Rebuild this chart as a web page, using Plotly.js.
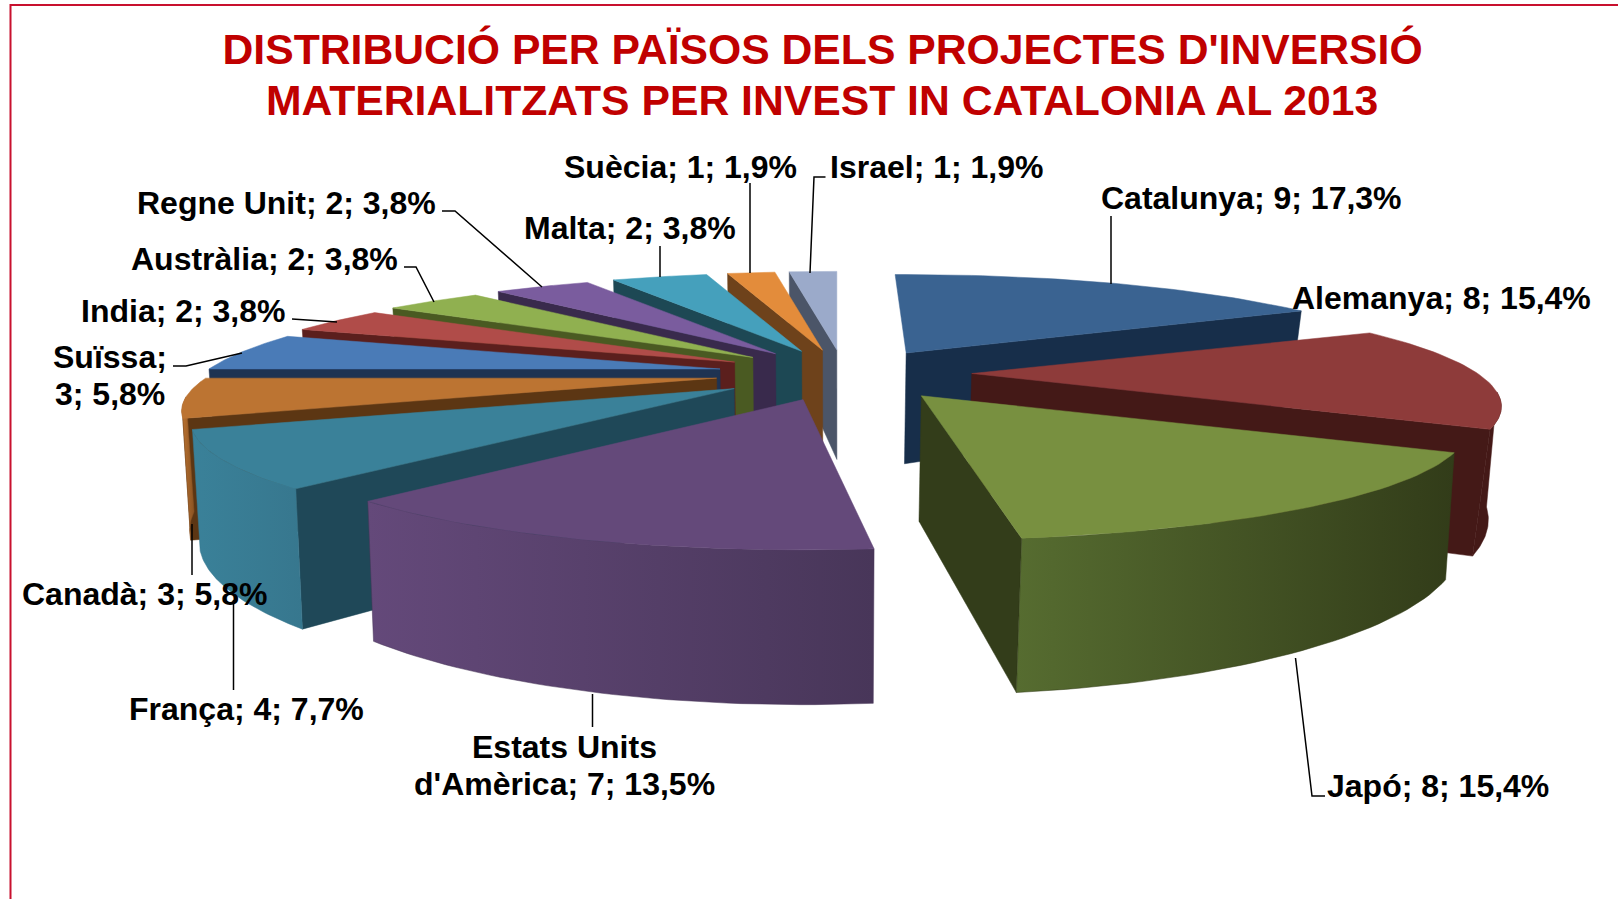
<!DOCTYPE html>
<html>
<head>
<meta charset="utf-8">
<script src="https://cdn.plot.ly/plotly-3.0.1.min.js"></script>
<style>html,body{margin:0;padding:0;background:#fff}#chart{width:1618px;height:899px}</style>
</head>
<body>
<div id="chart"></div>
<script>
const categories = ['Catalunya','Alemanya','Japó',"Estats Units d'Amèrica",'França','Canadà','Suïssa','India','Austràlia','Regne Unit','Malta','Suècia','Israel'];
const values = [9,8,8,7,4,3,3,2,2,2,2,1,1];
const labelTexts = ['Catalunya; 9; 17,3%','Alemanya; 8; 15,4%','Japó; 8; 15,4%',"Estats Units<br>d'Amèrica; 7; 13,5%",'França; 4; 7,7%','Canadà; 3; 5,8%','Suïssa;<br>3; 5,8%','India; 2; 3,8%','Austràlia; 2; 3,8%','Regne Unit; 2; 3,8%','Malta; 2; 3,8%','Suècia; 1; 1,9%','Israel; 1; 1,9%'];
const labelX = [1251,1441,1438,564,246,144,110,183.5,264.5,286.5,630,680,936.5];
const labelY = [198,298,786,765.5,709,594,375,311,259,203,228,167,167];
const leaderX = [[1111,1111],[],[1295.5,1312,1325],[592.5,592.5],[233.5,233.5],[192,192],[173,186,242],[292,337],[404,416,434],[442,455,542],[660,660],[750,750],[825.5,814,810]];
const leaderY = [[216,284],[],[658,796,796],[694,727],[600,690],[524,575],[366,366,353],[319,322],[267,267,302],[211,211,287],[246,277],[183,273],[177,177,273]];
const topColors = ['#3A6391','#8E3B3A','#789040','#64497A','#3A8199','#BC7432','#4A7BB7','#B04C49','#90B050','#7A5C9E','#45A0BC','#E38C3B','#9BAACA'];
const sideColors = ['#172E4A','#441917','#333D1A','#3E2D52','#1F4858','#5C3613','#1F3352','#5B1F1D','#4A5A22','#392A4C','#1D4854','#6E421B','#4B5568'];
const wallLeft = ['#172E4A','#441917','#566C30','#64497A','#3A8199','#BC7432','#4A7BB7','#B04C49','#90B050','#7A5C9E','#45A0BC','#E38C3B','#9BAACA'];
const wallRight = ['#172E4A','#441917','#323C19','#483659','#37778E','#8A5322','#1F3352','#5B1F1D','#4A5A22','#392A4C','#1D4854','#6E421B','#4B5568'];
const titleLines = ["DISTRIBUCIÓ PER PAÏSOS DELS PROJECTES D'INVERSIÓ","MATERIALITZATS PER INVEST IN CATALONIA AL 2013"];

// projection of the exploded pie, in the axes' units
const cx = 844, cy = 373.5, Rx = 511, Ry = 101.7, k = 0.296, explode = 0.25, H = 109;
// small per-slice corrections that follow the reference's perspective
const startTweak = [-1.6,0.8,1,1.3,-0.5,0,0,0,0,0,0,0,0];
const endTweak   = [-0.5,0.5,-0.9,0,0,0,0,0,0,0,0,0,0];
const scaleX = [1,0.99,1.02,1,1.015,1,1,1,1,1,1,1,1];
const scaleY = [1,1,1,1.04,1.015,1,1,1,1,1,1,1,1];
const rad = d => d * Math.PI / 180;
const total = values.reduce((a,b)=>a+b,0);
function local(angle, r){
  const X = Math.sin(rad(angle))*r, D = -Math.cos(rad(angle))*r, s = 1/(1-k*D);
  return {dx:Rx*X*s, dy:Ry*D*s, s};
}
let running = 0;
const slices = values.map((v,i)=>{
  const a0 = running/total*360; running += v; const a1 = running/total*360;
  const mid = (a0+a1)/2, ap = local(mid, explode);
  return {i, a0:a0+startTweak[i], a1:a1+endTweak[i], mid, ax:cx+ap.dx, ay:cy+ap.dy, sA:ap.s, depth:-Math.cos(rad(mid))};
});
function rim(sl, angle){
  const p = local(angle,1);
  return {x:sl.ax+p.dx*scaleX[sl.i], y:sl.ay+p.dy*scaleY[sl.i], h:H*p.s};
}
// the base of the pie draws slightly inward of its top, by an amount that varies round the rim
function base(x, sl, angle){
  let f = 0.988;
  if(x > cx){
    if(sl.i === 1) f = 0.99 - (angle-90)/28*0.017;
    else if(sl.i === 2) f = 0.986 - (angle-118)/55*0.016;
    else f = 0.973;
  }
  return cx+(x-cx)*f;
}
function poly(xs, ys, color, grad){
  const t = {type:'scatter', mode:'lines', x:xs.concat(xs[0]), y:ys.concat(ys[0]), fill:'toself', line:{width:0.5,color:color},
    fillcolor:color, hoverinfo:'skip', showlegend:false};
  if(grad) t.fillgradient = {type:'horizontal', colorscale:[[0,grad[0]],[1,grad[1]]]};
  return t;
}
function radialFace(sl, angle, color){
  const r = rim(sl, angle), hA = H*sl.sA*1.08;
  return poly([sl.ax, r.x, base(r.x,sl,angle), base(sl.ax,sl,angle)], [sl.ay, r.y, r.y+r.h, sl.ay+hA], color);
}
const traces = [];
slices.slice().sort((p,q)=>p.depth-q.depth).forEach(sl=>{
  const i = sl.i;
  if(sl.a1 > 0 && sl.a1 < 180) traces.push(radialFace(sl, sl.a1, sideColors[i]));
  if(sl.a0 >= 180) traces.push(radialFace(sl, sl.a0, sideColors[i]));
  const w0 = Math.max(sl.a0, 100), w1 = Math.min(sl.a1, 260);
  if(w1 > w0){
    const topX=[], topY=[], botX=[], botY=[];
    for(let a=w0; a<=w1+1e-6; a+=(w1-w0)/40){
      const r = rim(sl,a);
      topX.push(r.x); topY.push(r.y); botX.push(base(r.x,sl,a)); botY.push(r.y+r.h);
    }
    traces.push(poly(topX.concat(botX.slice().reverse()), topY.concat(botY.slice().reverse()), wallRight[i], [wallLeft[i], wallRight[i]]));
  }
  const fx=[sl.ax], fy=[sl.ay];
  for(let a=sl.a0; a<=sl.a1+1e-6; a+=(sl.a1-sl.a0)/40){
    const r = rim(sl,a); fx.push(r.x); fy.push(r.y);
  }
  traces.push(poly(fx, fy, topColors[i]));
});

const family = '"Liberation Sans", Arial, sans-serif';
const font = {family, size:32, color:'#000', weight:'bold'};
const lineGap = 37;
const annotations = [];
labelTexts.forEach((t,i)=>{
  const rows = t.split('<br>');
  rows.forEach((row,j)=>annotations.push({text:row, x:labelX[i], y:labelY[i]+(j-(rows.length-1)/2)*lineGap, xref:'x', yref:'y', xanchor:'center', yanchor:'middle', showarrow:false, font}));
});
const titleFont = {family, size:42.7, color:'#C00000', weight:'bold'};
annotations.push({text:titleLines[1], x:822, y:99.5, xref:'x', yref:'y', xanchor:'center', yanchor:'middle', showarrow:false, font:titleFont});
const shapes = leaderX.filter(a=>a.length).map((xs,n)=>{
  const ys = leaderY.filter(a=>a.length)[n];
  return {type:'path', xref:'x', yref:'y', layer:'above', path:xs.map((x,j)=>(j?'L':'M')+x+' '+ys[j]).join(' '), line:{color:'#000',width:1.5}};
});
shapes.push({type:'path', xref:'x', yref:'y', layer:'above', path:'M10.5 899 L10.5 5 L1618 5', line:{color:'#C8102E',width:2}});

const layout = {
  width:1618, height:899, margin:{l:0,r:0,t:0,b:0}, paper_bgcolor:'#fff', plot_bgcolor:'#fff', showlegend:false,
  title:{text:titleLines[0], x:822.6/1618, xanchor:'center', xref:'paper', y:1-49.5/899, yref:'container', yanchor:'middle', font:titleFont},
  xaxis:{range:[0,1618], visible:false, fixedrange:true},
  yaxis:{range:[899,0], visible:false, fixedrange:true},
  annotations, shapes
};
Plotly.newPlot('chart', traces, layout, {displayModeBar:false, staticPlot:true});
</script>
</body>
</html>
